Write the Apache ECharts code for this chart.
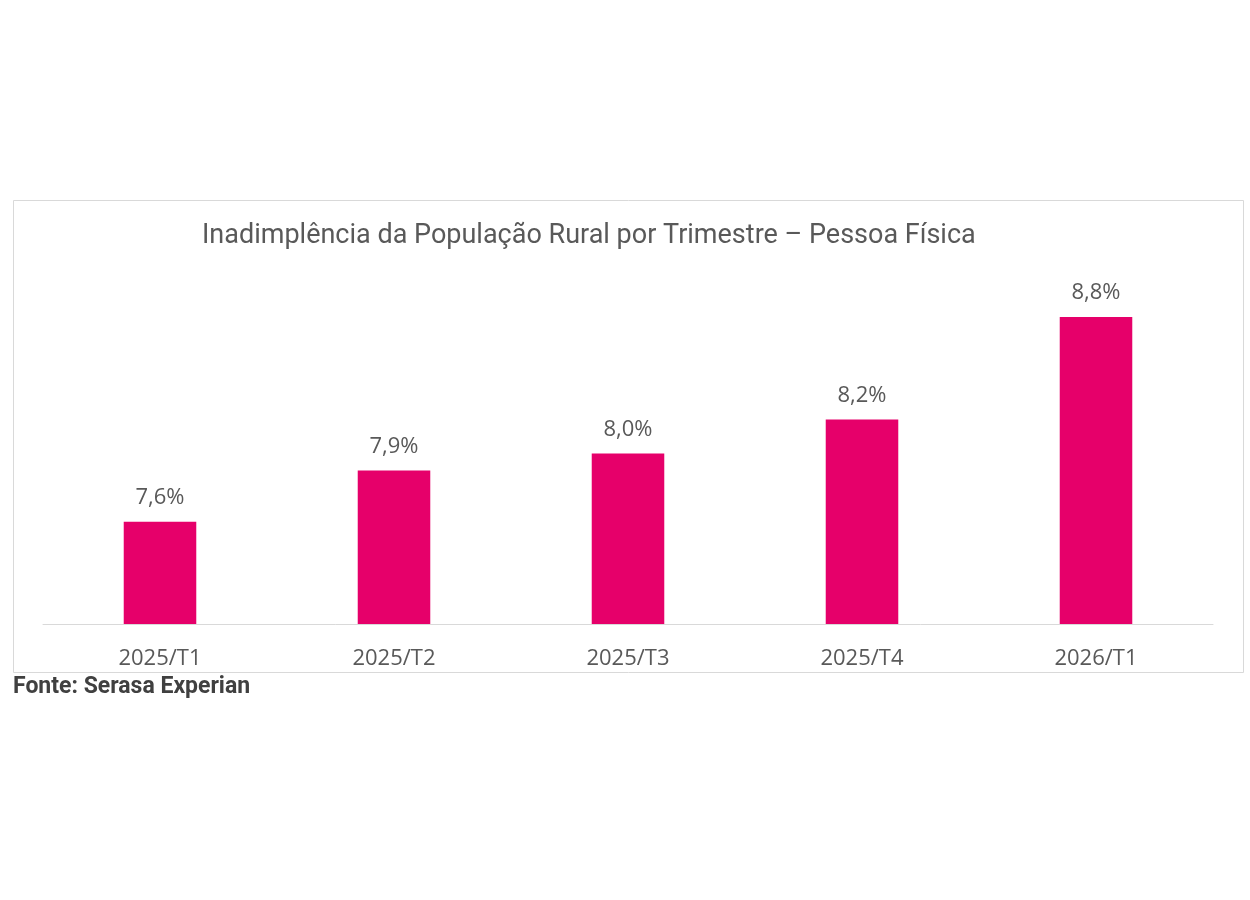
<!DOCTYPE html>
<html>
<head>
<meta charset="utf-8">
<title>Inadimplência da População Rural</title>
<script src="https://cdn.jsdelivr.net/npm/echarts@6/dist/echarts.min.js"></script>
<style>
html, body { margin: 0; padding: 0; background: #fff; }
#chart { width: 1250px; height: 900px; }
</style>
</head>
<body>
<div id="chart"></div>
<script>
// dados
var trimestres = ['2025/T1', '2025/T2', '2025/T3', '2025/T4', '2026/T1'];
var inadimplencia = [7.6, 7.9, 8.0, 8.2, 8.8];
var titulo = 'Inadimplência da População Rural por Trimestre – Pessoa Física';
var fonte = 'Fonte: Serasa Experian';

var myChart = echarts.init(document.getElementById('chart'));
var option = {
    backgroundColor: '#fff',
    animation: false,
    title: {
        text: titulo,
        left: 197,
        top: 218,
        textStyle: {
            fontFamily: 'Roboto',
            fontSize: 27,
            fontWeight: 'normal',
            color: '#595959'
        }
    },
    graphic: [
        {
            type: 'rect',
            shape: { x: 13.5, y: 200.5, width: 1230, height: 472 },
            style: { fill: 'none', stroke: '#d9d9d9', lineWidth: 1 },
            silent: true
        },
        {
            type: 'text',
            left: 13,
            top: 676,
            style: {
                text: fonte,
                fontFamily: 'Roboto',
                fontSize: 23,
                fontWeight: 'bold',
                fill: '#404040'
            }
        }
    ],
    grid: {
        left: 43,
        right: 37,
        top: 283,
        bottom: 276
    },
    xAxis: {
        type: 'category',
        data: trimestres,
        axisTick: { show: false },
        axisLine: {
            lineStyle: { color: '#d9d9d9', width: 1 }
        },
        axisLabel: {
            margin: 24,
            fontFamily: 'Open Sans',
            fontSize: 22,
            color: '#595959'
        }
    },
    yAxis: {
        type: 'value',
        min: 7,
        max: 9,
        show: false,
        splitLine: { show: false }
    },
    series: [{
        type: 'bar',
        data: inadimplencia,
        barWidth: '31%',
        itemStyle: {
            color: '#E6006A'
        },
        label: {
            show: true,
            position: 'top',
            distance: 13,
            fontFamily: 'Open Sans',
            fontSize: 22,
            color: '#595959',
            formatter: function (p) {
                return p.value.toFixed(1).replace('.', ',') + '%';
            }
        }
    }]
};
myChart.setOption(option);
</script>
</body>
</html>
